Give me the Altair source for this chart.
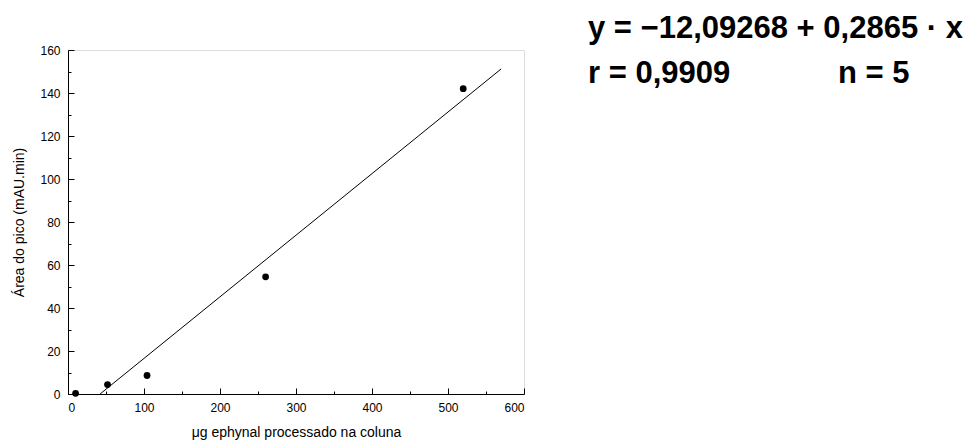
import altair as alt
import pandas as pd

# measured data
x_vals = [10, 52, 104, 260, 520]
y_vals = [0.3, 4.4, 8.6, 54.5, 142.0]

# regression coefficients
intercept = -12.09268
slope = 0.2865
fit_x_end = 570

x_major = [0, 100, 200, 300, 400, 500, 600]
x_minor = [50, 150, 250, 350, 450, 550]
y_major = [0, 20, 40, 60, 80, 100, 120, 140, 160]
y_minor = [10, 30, 50, 70, 90, 110, 130, 150]

pts = pd.DataFrame({"x": x_vals, "y": y_vals})
fit_x_start = -intercept / slope
fit = pd.DataFrame({"x": [fit_x_start, fit_x_end],
                    "y": [intercept + slope * fit_x_start, intercept + slope * fit_x_end]})

FONT = "Liberation Sans"
xs = alt.Scale(domain=[0, 600], nice=False)
ys = alt.Scale(domain=[0, 160], nice=False)

def axis(orient, **kw):
    base = dict(orient=orient, grid=False, domainColor="black", tickColor="black",
                domainWidth=1, tickWidth=1,
                labelColor="black", titleColor="black", labelFont=FONT, titleFont=FONT,
                labelFontSize=12, titleFontSize=14, titleFontWeight="normal")
    base.update(kw)
    return alt.Axis(**base)

main = alt.Chart(pts).mark_circle(size=46, color="black", opacity=1).encode(
    x=alt.X("x:Q", scale=xs, axis=axis("bottom", values=x_major, ticks=False, labelPadding=8,
                                        title="μg ephynal processado na coluna", titlePadding=12)),
    y=alt.Y("y:Q", scale=ys, axis=axis("left", values=y_major, ticks=False, labelPadding=8,
                                        title="Área do pico (mAU.min)", titlePadding=13)),
)

line = alt.Chart(fit).mark_line(color="black", strokeWidth=1).encode(
    x=alt.X("x:Q", scale=xs, axis=axis("bottom", values=x_major, domain=False, labels=False,
                                        title=None, tickSize=6, offset=-6)),
    y=alt.Y("y:Q", scale=ys, axis=axis("left", values=y_major, domain=False, labels=False,
                                        title=None, tickSize=6, offset=-6)),
)

minor = alt.Chart(fit).mark_line(opacity=0).encode(
    x=alt.X("x:Q", scale=xs, axis=axis("bottom", values=x_minor, domain=False, labels=False,
                                        title=None, tickSize=3, offset=-3)),
    y=alt.Y("y:Q", scale=ys, axis=axis("left", values=y_minor, domain=False, labels=False,
                                        title=None, tickSize=3, offset=-3)),
)

def label(txt, px, py):
    return alt.Chart(pd.DataFrame({"t": [txt]})).mark_text(
        font=FONT, fontSize=31, fontWeight="bold", align="left", baseline="alphabetic",
        color="black"
    ).encode(text="t:N", x=alt.value(px), y=alt.value(py))

eq1 = label("y = −12,09268 + 0,2865 · x", 520, -12)
eq2 = label("r = 0,9909", 520, 33)
eq3 = label("n = 5", 770, 33)

chart = alt.layer(main, line, minor, eq1, eq2, eq3).resolve_axis(
    x="independent", y="independent"
).properties(
    width=456, height=344,
    autosize=alt.AutoSizeParams(type="none"),
    padding={"left": 68, "top": 50, "right": 446, "bottom": 50},
).configure_view(stroke=None).configure(background="white")

chart.save("out.html", embed_options={"renderer": "svg", "actions": False})
